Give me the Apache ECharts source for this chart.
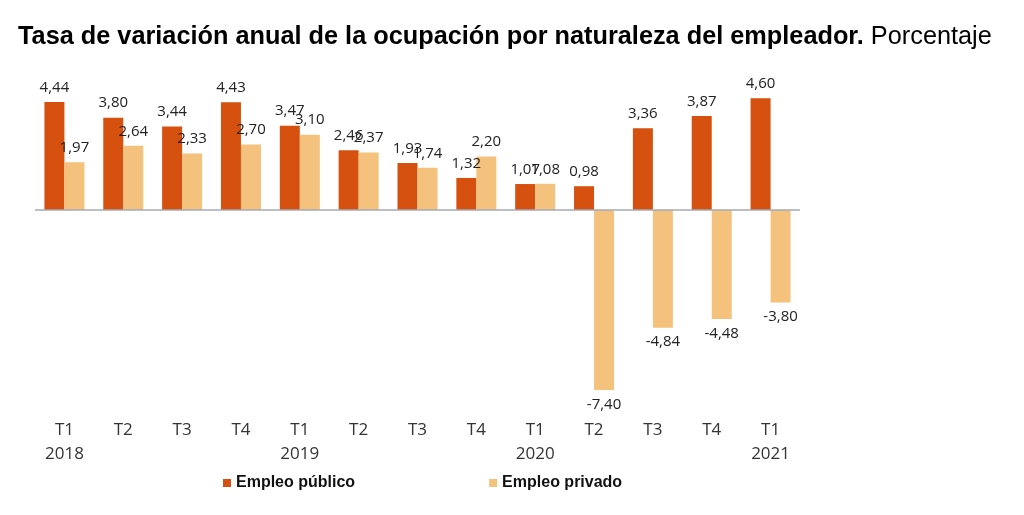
<!DOCTYPE html>
<html>
<head>
<meta charset="utf-8">
<script src="https://cdn.jsdelivr.net/npm/echarts@6/dist/echarts.min.js"></script>
<style>html,body{margin:0;padding:0;background:#fff}#c{width:1024px;height:515px}</style>
</head>
<body>
<div id="c"></div>
<script>
const quarters = ['T1','T2','T3','T4','T1','T2','T3','T4','T1','T2','T3','T4','T1'];
const years = ['2018','','','','2019','','','','2020','','','','2021'];
const publico = [4.44, 3.80, 3.44, 4.43, 3.47, 2.46, 1.93, 1.32, 1.07, 0.98, 3.36, 3.87, 4.60];
const privado = [1.97, 2.64, 2.33, 2.70, 3.10, 2.37, 1.74, 2.20, 1.08, -7.40, -4.84, -4.48, -3.80];

const categories = quarters.map((q, i) => years[i] ? q + '\n' + years[i] : q);
const fmt = p => p.value.toFixed(2).replace('.', ',');
const labelFont = 'Open Sans, Noto Sans, sans-serif';

const chart = echarts.init(document.getElementById('c'));
chart.setOption({
  animation: false,
  title: {
    left: 13, top: 20,
    text: '{b|Tasa de variación anual de la ocupación por naturaleza del empleador.}{n| Porcentaje}',
    textStyle: {
      rich: {
        b: { fontFamily: 'Liberation Sans, Arial, sans-serif', fontWeight: 'bold', fontSize: 25.3, color: '#000' },
        n: { fontFamily: 'Liberation Sans, Arial, sans-serif', fontWeight: 'normal', fontSize: 25.3, color: '#000' }
      }
    }
  },
  legend: {
    top: 470, left: 218,
    itemWidth: 8, itemHeight: 8, itemGap: 134,
    icon: 'rect',
    textStyle: { fontFamily: 'Liberation Sans, Arial, sans-serif', fontWeight: 'bold', fontSize: 16, color: '#111' },
    data: ['Empleo público', 'Empleo privado']
  },
  grid: { left: 35, right: 224, top: 88.5, bottom: 110.5 },
  xAxis: {
    type: 'category',
    data: categories,
    axisLine: { show: false },
    axisTick: { show: false },
    axisLabel: { margin: 14, fontFamily: labelFont, fontSize: 17, color: '#333', lineHeight: 24, interval: 0 }
  },
  yAxis: {
    type: 'value', min: -8, max: 5,
    show: false,
    splitLine: { show: false }
  },
  series: [{
    name: 'Empleo público',
    type: 'bar',
    data: publico,
    barWidth: 20,
    barGap: '0%',
    itemStyle: { color: '#D6500F' },
    label: { show: true, position: 'top', distance: 7, formatter: fmt, fontFamily: labelFont, fontSize: 15, color: '#222' },
    markLine: {
      silent: true, symbol: 'none', label: { show: false },
      lineStyle: { color: '#A3AAB8', width: 1.5, type: 'solid' },
      data: [{ yAxis: 0 }]
    }
  }, {
    name: 'Empleo privado',
    type: 'bar',
    data: privado.map(v => ({ value: v, label: { position: v < 0 ? 'bottom' : 'top' } })),
    barWidth: 20,
    barGap: '0%',
    itemStyle: { color: '#F4C27C' },
    label: { show: true, position: 'top', distance: 7, formatter: fmt, fontFamily: labelFont, fontSize: 15, color: '#222' }
  }]
});
</script>
</body>
</html>
